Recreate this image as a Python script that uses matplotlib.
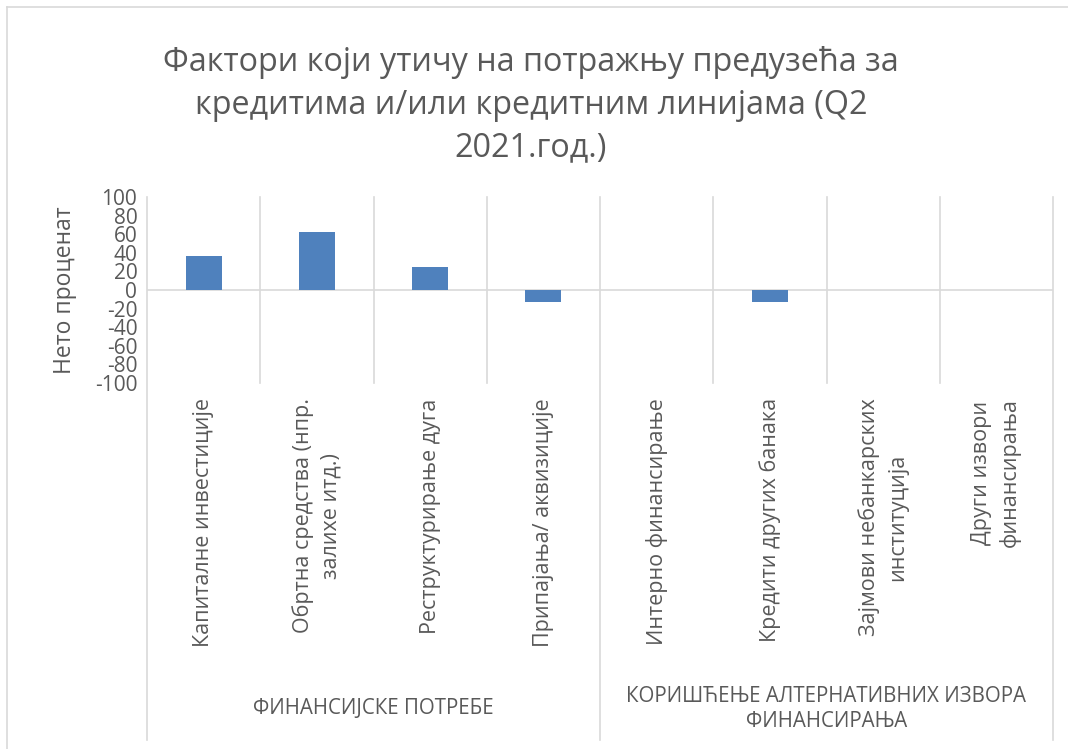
import matplotlib.pyplot as plt
import matplotlib.transforms as mtransforms
from matplotlib.lines import Line2D

categories = ['Капиталне инвестиције', 'Обртна средства (нпр.\nзалихе итд.)',
              'Реструктурирање дуга', 'Припајања/ аквизиције',
              'Интерно финансирање', 'Кредити других банака',
              'Зајмови небанкарских\nинституција', 'Други извори\nфинансирања']
values = [37, 62, 25, -13, 0, -13, 0, 0]
groups = ['ФИНАНСИЈСКЕ ПОТРЕБЕ', 'КОРИШЋЕЊЕ АЛТЕРНАТИВНИХ ИЗВОРА\nФИНАНСИРАЊА']
group_sizes = [4, 4]
yticks = list(range(-100, 101, 20))

title = 'Фактори који утичу на потражњу предузећа за\nкредитима и/или кредитним линијама (Q2\n2021.год.)'

plt.rcParams['font.family'] = ['Open Sans', 'DejaVu Sans']
text_color = '#595959'
grid_color = '#d9d9d9'

W, H = 1068, 749
fig = plt.figure(figsize=(W / 100, H / 100), dpi=100)

# plot area in pixels
left, right, top, bottom = 147, 1053, 197, 383
ax = fig.add_axes([left / W, 1 - bottom / H, (right - left) / W, (bottom - top) / H])

x = range(len(categories))
ax.bar(x, values, width=0.32, color='#4f81bd', zorder=3)
ax.axhline(0, color=grid_color, lw=1.2, zorder=2)

ax.set_xlim(-0.5, len(categories) - 0.5)
ax.set_ylim(-100, 100)
ax.set_yticks(yticks)
ax.set_yticklabels([str(v) for v in yticks], fontsize=15, color=text_color)
ax.set_xticks(list(x))
ax.set_xticklabels(categories, rotation=90, fontsize=15.5, color=text_color,
                   va='top', ha='center', multialignment='center', linespacing=1.4)
ax.tick_params(axis='both', length=0)
ax.tick_params(axis='y', pad=7)
ax.tick_params(axis='x', pad=11)
for s in ax.spines.values():
    s.set_visible(False)

ax.set_ylabel('Нето проценат', fontsize=16.5, color=text_color, labelpad=13)

# separators between categories and groups
trans = mtransforms.blended_transform_factory(ax.transData, ax.transAxes)
ext = (bottom - 740) / (bottom - top)
bounds = [-0.5]
for g in group_sizes:
    bounds.append(bounds[-1] + g)
for i in range(len(categories) + 1):
    xb = i - 0.5
    y0 = ext if xb in bounds else 0
    ax.plot([xb, xb], [y0, 1], color=grid_color, lw=1.2, transform=trans,
            clip_on=False, zorder=1)

# group labels
start = -0.5
for name, g in zip(groups, group_sizes):
    cx = start + g / 2
    ax.text(cx, (bottom - 709) / (bottom - top), name, transform=trans,
            ha='center', va='center', fontsize=14.8, color=text_color,
            linespacing=1.3)
    start += g

fig.text(0.497, 1 - 105 / H, title, ha='center', va='center', fontsize=23.3,
         color=text_color, linespacing=1.38)

# chart border
fig.add_artist(Line2D([7 / W, 1], [1 - 7 / H, 1 - 7 / H], color=grid_color, lw=1.2))
fig.add_artist(Line2D([7 / W, 7 / W], [0, 1 - 7 / H], color=grid_color, lw=1.2))

fig.savefig('out.png', dpi=100)
